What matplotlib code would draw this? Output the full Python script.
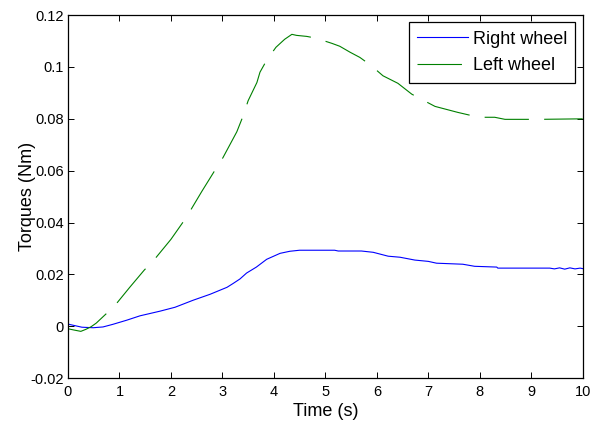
import matplotlib
matplotlib.use("Agg")
import matplotlib.pyplot as plt
import numpy as np

plt.rcParams['font.family'] = ['Liberation Sans', 'DejaVu Sans']
plt.rcParams['lines.scale_dashes'] = False

# right wheel torque (Nm)
t_right = [0, 0.27, 0.49, 0.68, 0.87, 1.14, 1.40, 1.79, 2.08, 2.43, 2.76, 3.09,
           3.21, 3.34, 3.47, 3.66, 3.86, 4.12, 4.31, 4.50, 5.18, 5.25, 5.70,
           5.93, 6.22, 6.45, 6.74, 7.00, 7.16, 7.67, 7.90, 8.33, 8.35, 9.36,
           9.45, 9.55, 9.65, 9.75, 9.85, 9.95, 10.0]
v_right = [0.0008, -0.0004, -0.0006, -0.0003, 0.0007, 0.0023, 0.0040, 0.0058,
           0.0073, 0.0100, 0.0123, 0.0150, 0.0165, 0.0182, 0.0205, 0.0228,
           0.0258, 0.0281, 0.0289, 0.0293, 0.0293, 0.0290, 0.0290, 0.0285,
           0.0270, 0.0266, 0.0255, 0.0250, 0.0243, 0.0239, 0.0231, 0.0228,
           0.0224, 0.0224, 0.0221, 0.0225, 0.0220, 0.0225, 0.0221, 0.0224,
           0.0222]

# left wheel torque (Nm)
t_left = [0, 0.12, 0.25, 0.35, 0.45, 0.55, 0.70, 0.90, 1.20, 1.48, 1.69, 2.0,
          2.23, 2.39, 2.60, 2.85, 3.01, 3.28, 3.40, 3.50, 3.67, 3.73, 3.86,
          4.04, 4.21, 4.35, 4.44, 4.64, 4.82, 5.13, 5.28, 5.48, 5.67, 5.88,
          6.12, 6.41, 6.68, 6.87, 7.13, 7.57, 7.98, 8.29, 8.49, 9.17, 10.0]
v_left = [-0.0010, -0.0015, -0.0020, -0.0012, -0.0002, 0.0012, 0.0040, 0.0077,
          0.0150, 0.0216, 0.0260, 0.0335, 0.0400, 0.0450, 0.0520, 0.0600,
          0.0650, 0.0750, 0.0810, 0.0870, 0.0940, 0.0980, 0.1026, 0.1076,
          0.1107, 0.1126, 0.1122, 0.1118, 0.1111, 0.1091, 0.1080, 0.1057,
          0.1037, 0.1007, 0.0966, 0.0937, 0.0895, 0.0875, 0.0848, 0.0825,
          0.0806, 0.0806, 0.0798, 0.0798, 0.0800]

fig = plt.figure(figsize=(6.07, 4.33), dpi=100)
ax = fig.add_axes([0.112, 0.127, 0.848, 0.838])

ax.plot(t_right, v_right, color=(0, 0, 1), lw=0.8, label='Right wheel')
ax.plot(t_left, v_left, color=(0, 0.5, 0), lw=0.8, ls=(0, (32, 11)),
        label='Left wheel')

ax.set_xlim(0, 10)
ax.set_ylim(-0.02, 0.12)
ax.set_xticks(np.arange(0, 11, 1))
ax.set_yticks([-0.02, 0, 0.02, 0.04, 0.06, 0.08, 0.1, 0.12])
ax.set_yticklabels(['-0.02', '0', '0.02', '0.04', '0.06', '0.08', '0.1', '0.12'])
ax.tick_params(direction='in', top=True, right=True, labelsize=10.5,
               length=4, width=0.7)
ax.tick_params(axis='x', pad=5)
ax.tick_params(axis='y', pad=3)
for s in ax.spines.values():
    s.set_linewidth(0.9)

ax.set_xlabel('Time (s)', fontsize=13)
ax.set_ylabel('Torques (Nm)', fontsize=13)
ax.xaxis.set_label_coords(0.5, -0.07)
ax.yaxis.set_label_coords(-0.062, 0.5)

leg = ax.legend(loc='upper right', fontsize=13, fancybox=False,
                edgecolor='black', framealpha=1, borderaxespad=0.4,
                handlelength=2.8, handletextpad=0.3, borderpad=0.45,
                labelspacing=0.55)
leg.get_frame().set_linewidth(0.9)

fig.savefig('out.png', dpi=100)
